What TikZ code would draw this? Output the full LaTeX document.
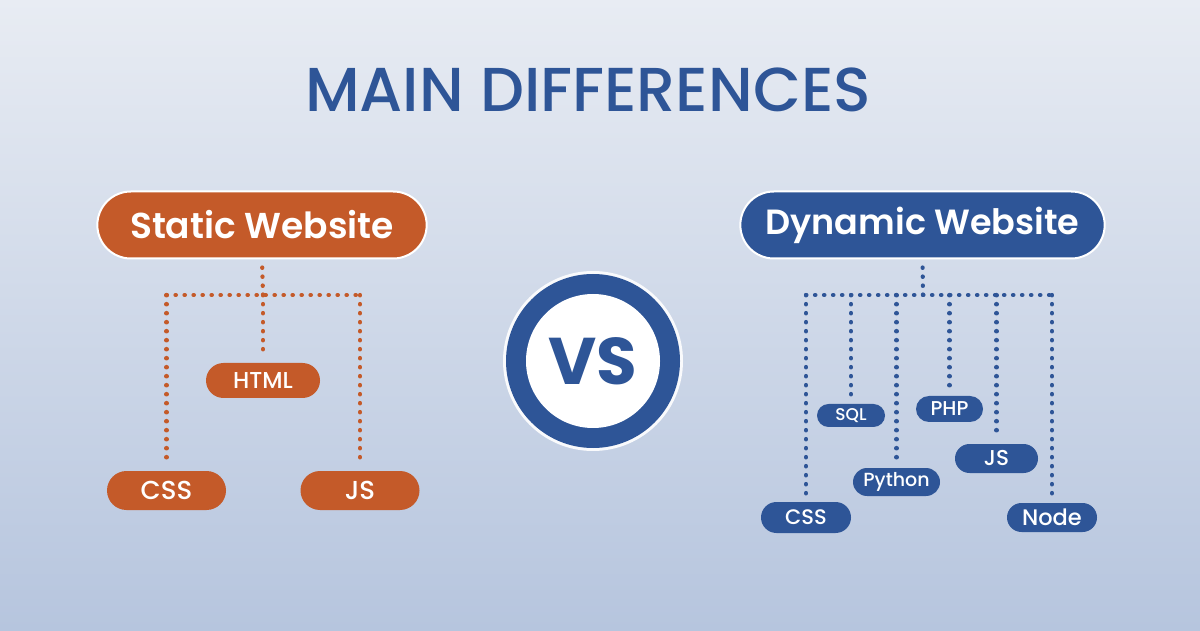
\documentclass[tikz,border=0pt]{standalone}
\usepackage{fontspec}
\setmainfont{Poppins}
\newfontfamily\medfont{Poppins}[UprightFont=* Medium]
\newfontfamily\semifont{Poppins}[UprightFont=* SemiBold]
\usetikzlibrary{shapes.misc, positioning}
\definecolor{StaticOrange}{HTML}{C45A29}
\definecolor{DynBlue}    {HTML}{2E5597}
\definecolor{BgTop}      {HTML}{E8ECF3}
\definecolor{BgBottom}   {HTML}{B6C5DE}
\newcommand{\pxfont}[1]{\fontsize{#1}{#1}\selectfont}

\begin{document}
\begin{tikzpicture}[
  x=1pt, y=1pt,
  header/.style={
    rounded rectangle, draw=white, line width=2pt,
    minimum height=67pt, text=white
  },
  pill/.style 2 args={
    rounded rectangle, inner sep=0pt,
    minimum width=#1, minimum height=#2,
    text=white
  },
  sdots/.style={
    StaticOrange, line width=4.2pt, line cap=round,
    dash pattern=on 0.4pt off 8.6pt
  },
  ddots/.style={
    DynBlue, line width=4.2pt, line cap=round,
    dash pattern=on 0.4pt off 8.6pt
  }
]

% background
\fill[top color=BgTop, bottom color=BgBottom] (0,0) rectangle (1200,630);
\useasboundingbox (0,0) rectangle (1200,630);

\node[font=\medfont\pxfont{62}, text=DynBlue] (title) at (588,540)
  {MAIN DIFFERENCES};

% static side
\node[header, fill=StaticOrange, minimum width=336pt,
  font=\semifont\pxfont{36}] (static) at (262,405) {Static Website};
\node[pill={114pt}{35pt}, fill=StaticOrange, font=\medfont\pxfont{23}]
  (shtml) at (263,249.5) {HTML};
\node[pill={119pt}{39pt}, fill=StaticOrange, font=\medfont\pxfont{26}]
  (scss) at (166.5,139.5) {CSS};
\node[pill={119pt}{39pt}, fill=StaticOrange, font=\medfont\pxfont{26}]
  (sjs) at (360,139.5) {JS};

\coordinate (sbar) at (263,335);
\draw[sdots, shorten <=8pt] (static.south) -- (sbar);
\draw[sdots] (scss |- sbar) -- (sjs |- sbar);
\foreach \n in {scss, shtml, sjs}
  \draw[sdots, shorten >=6pt] (\n |- sbar) -- (\n.north);

% vs badge
\fill[white!75!BgTop] (593,269) circle (90);
\fill[DynBlue] (593,269) circle (87);
\node[circle, fill=white, minimum size=134pt, text=DynBlue,
  font=\bfseries\pxfont{66}] (vs) at (593,269) {VS};

% dynamic side
\node[header, fill=DynBlue, minimum width=371pt,
  font=\semifont\pxfont{35}] (dynamic) at (922.5,405) {Dynamic Website};
\node[pill={90pt}{31pt}, fill=DynBlue, font=\medfont\pxfont{21}]
  (dcss) at (806,112.5) {CSS};
\node[pill={68pt}{23pt}, fill=DynBlue, font=\medfont\pxfont{17}]
  (dsql) at (851,214.5) {SQL};
\node[pill={87pt}{28pt}, fill=DynBlue, font=\medfont\pxfont{19}]
  (dpython) at (896.5,148) {Python};
\node[pill={67pt}{26pt}, fill=DynBlue, font=\medfont\pxfont{20}]
  (dphp) at (949.5,221) {PHP};
\node[pill={83pt}{29pt}, fill=DynBlue, font=\medfont\pxfont{21.5}]
  (djs) at (996.5,171.5) {JS};
\node[pill={90pt}{29pt}, fill=DynBlue, font=\medfont\pxfont{22.5}]
  (dnode) at (1052,112.5) {Node};

\coordinate (dbar) at (923,335);
\draw[ddots, shorten <=8pt] (dynamic.south) -- (dbar);
\draw[ddots] (dcss |- dbar) -- (dnode |- dbar);
\foreach \n in {dcss, dsql, dpython, dphp, djs, dnode}
  \draw[ddots, shorten >=5pt] (\n |- dbar) -- (\n.north);

\end{tikzpicture}
\end{document}
